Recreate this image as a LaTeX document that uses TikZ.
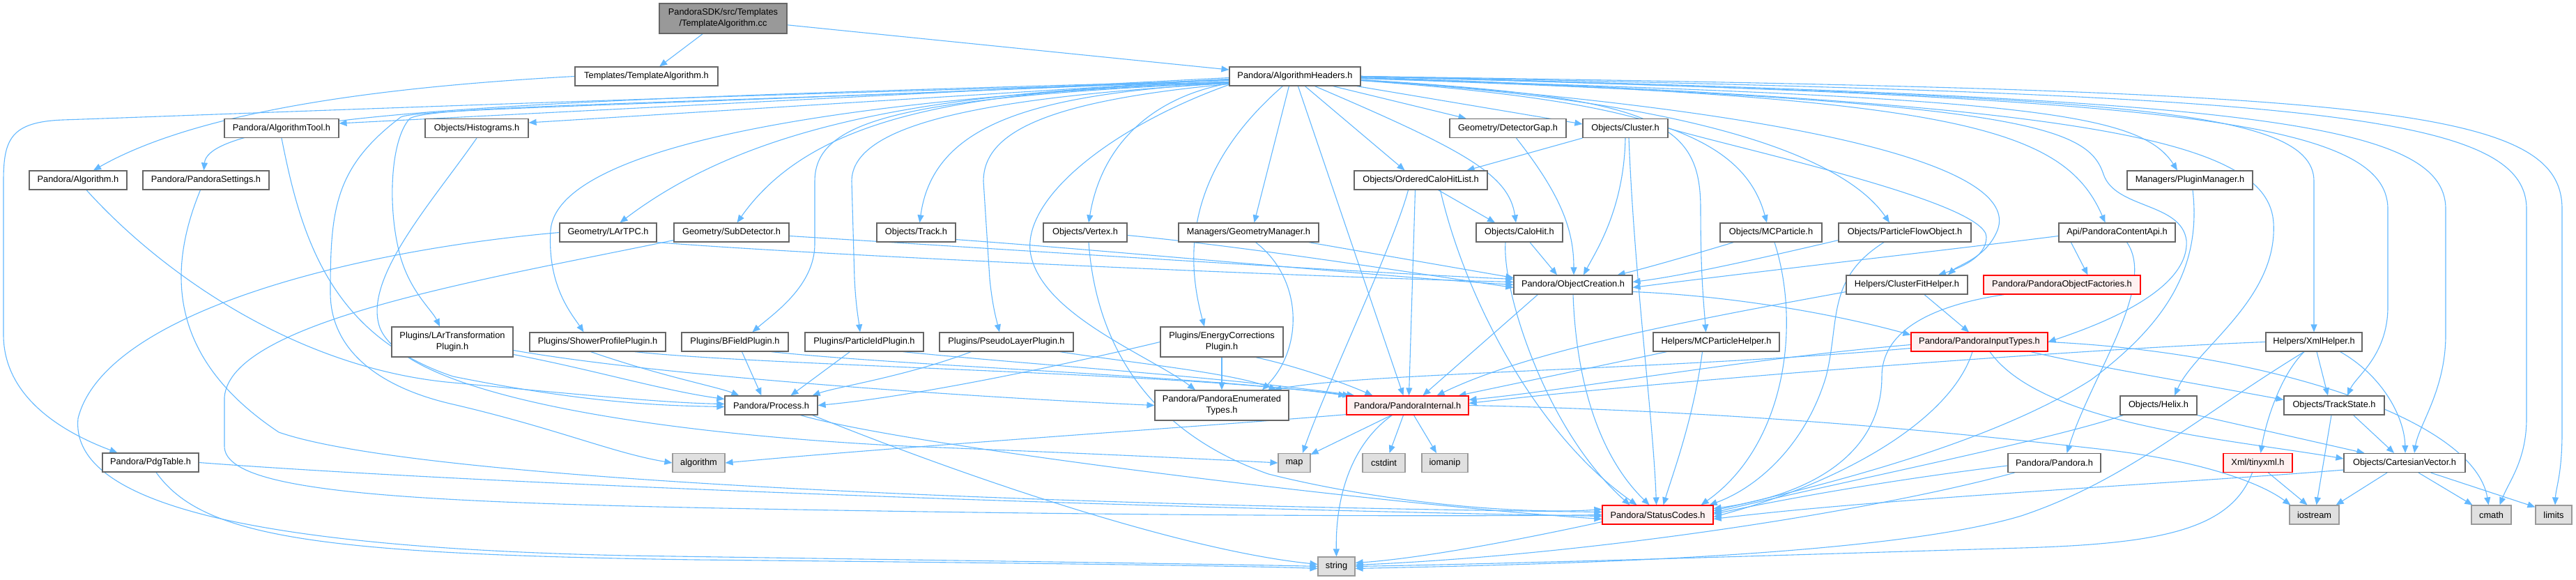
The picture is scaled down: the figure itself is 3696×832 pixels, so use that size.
\documentclass[tikz,border=0pt]{standalone}
\usepackage{fontspec}
\setmainfont{Liberation Sans}
\usetikzlibrary{arrows.meta,calc,backgrounds}
\definecolor{edgeblue}{HTML}{63B8FF}
\definecolor{boxgray}{HTML}{666666}
\definecolor{sysgray}{HTML}{999999}
\definecolor{sysfill}{HTML}{E0E0E0}
\definecolor{redfill}{HTML}{FFF0F0}
\definecolor{rootfill}{HTML}{999999}
\begin{document}
\begin{tikzpicture}[x=1pt,y=-1pt,
  box/.style={draw=boxgray, fill=white, line width=1.2pt, minimum height=27pt, inner xsep=2pt, inner ysep=0pt, align=center, font=\fontsize{12.8pt}{16pt}\selectfont},
  redbox/.style={box, draw=red, fill=redfill},
  sysbox/.style={box, draw=sysgray, fill=sysfill},
  rootbox/.style={box, fill=rootfill},
  edge/.style={draw=edgeblue, line width=1.1pt, -{Triangle[length=11pt,width=9pt]}}
]
\useasboundingbox (0,0) rectangle (3696,832);
% ---------------- nodes ----------------
\node[rootbox, minimum width=183pt, minimum height=43pt] (cc) at (1037.5,26.5) {PandoraSDK/src/Templates\\/TemplateAlgorithm.cc};
\node[box, minimum width=205pt] (tah) at (927.5,109.5) {Templates/TemplateAlgorithm.h};
\node[box, minimum width=188pt] (ah) at (1858,109.5) {Pandora/AlgorithmHeaders.h};
\node[box, minimum width=164pt] (atool) at (404,184) {Pandora/AlgorithmTool.h};
\node[box, minimum width=148pt] (hist) at (684,184) {Objects/Histograms.h};
\node[box, minimum width=167pt] (dgap) at (2163.5,184) {Geometry/DetectorGap.h};
\node[box, minimum width=122pt] (clus) at (2332,184) {Objects/Cluster.h};
\node[box, minimum width=140pt] (alg) at (112,258.5) {Pandora/Algorithm.h};
\node[box, minimum width=181pt] (pset) at (295.5,258.5) {Pandora/PandoraSettings.h};
\node[box, minimum width=191pt] (ochl) at (2038.5,258.5) {Objects/OrderedCaloHitList.h};
\node[box, minimum width=180pt] (pman) at (3142,258.5) {Managers/PluginManager.h};
\node[box, minimum width=139pt] (lartpc) at (872.5,333.5) {Geometry/LArTPC.h};
\node[box, minimum width=165pt] (subdet) at (1049.5,333.5) {Geometry/SubDetector.h};
\node[box, minimum width=113pt] (track) at (1314.5,333.5) {Objects/Track.h};
\node[box, minimum width=120pt] (vertex) at (1557,333.5) {Objects/Vertex.h};
\node[box, minimum width=201pt] (gman) at (1791.5,333.5) {Managers/GeometryManager.h};
\node[box, minimum width=124pt] (calohit) at (2180,333.5) {Objects/CaloHit.h};
\node[box, minimum width=146pt] (mcp) at (2541,333.5) {Objects/MCParticle.h};
\node[box, minimum width=190pt] (pfo) at (2733,333.5) {Objects/ParticleFlowObject.h};
\node[box, minimum width=167pt] (api) at (3037.5,333.5) {Api/PandoraContentApi.h};
\node[box, minimum width=170pt] (ocre) at (2257,408.5) {Pandora/ObjectCreation.h};
\node[box, minimum width=174pt] (cfh) at (2736,408.5) {Helpers/ClusterFitHelper.h};
\node[redbox, minimum width=225pt] (pof) at (2958.5,408.5) {Pandora/PandoraObjectFactories.h};
\node[box, minimum width=174pt, minimum height=43pt] (lartr) at (649,490.5) {Plugins/LArTransformation\\Plugin.h};
\node[box, minimum width=195pt] (shower) at (857.5,490.5) {Plugins/ShowerProfilePlugin.h};
\node[box, minimum width=153pt] (bfield) at (1054.5,490.5) {Plugins/BFieldPlugin.h};
\node[box, minimum width=170pt] (pid) at (1240,490.5) {Plugins/ParticleIdPlugin.h};
\node[box, minimum width=192pt] (pseudo) at (1444,490.5) {Plugins/PseudoLayerPlugin.h};
\node[box, minimum width=176pt, minimum height=43pt] (ecorr) at (1753,490.5) {Plugins/EnergyCorrections\\Plugin.h};
\node[box, minimum width=181pt] (mcph) at (2462.5,490.5) {Helpers/MCParticleHelper.h};
\node[redbox, minimum width=196pt] (pit) at (2840,490.5) {Pandora/PandoraInputTypes.h};
\node[box, minimum width=138pt] (xmlh) at (3320,490.5) {Helpers/XmlHelper.h};
\node[box, minimum width=133pt] (proc) at (1106.5,581.5) {Pandora/Process.h};
\node[box, minimum width=192pt, minimum height=43pt] (enum) at (1753,581.5) {Pandora/PandoraEnumerated\\Types.h};
\node[redbox, minimum width=175pt] (pint) at (2019.5,581.5) {Pandora/PandoraInternal.h};
\node[box, minimum width=110pt] (helix) at (3097,581.5) {Objects/Helix.h};
\node[box, minimum width=144pt] (tstate) at (3349,581.5) {Objects/TrackState.h};
\node[box, minimum width=138pt] (pdg) at (216,663.5) {Pandora/PdgTable.h};
\node[sysbox, minimum width=75pt] (algo) at (1002.5,664) {algorithm};
\node[sysbox, minimum width=46pt] (map) at (1857,664) {map};
\node[sysbox, minimum width=61pt] (cstdint) at (1985.5,664) {cstdint};
\node[sysbox, minimum width=66pt] (iomanip) at (2073,664) {iomanip};
\node[box, minimum width=133pt] (pandora) at (2947.5,664) {Pandora/Pandora.h};
\node[redbox, minimum width=99pt] (tinyxml) at (3239.5,664) {Xml/tinyxml.h};
\node[box, minimum width=174pt] (cvec) at (3450,664) {Objects/CartesianVector.h};
\node[redbox, minimum width=159pt] (status) at (2378.5,738.5) {Pandora/StatusCodes.h};
\node[sysbox, minimum width=71pt] (iostream) at (3320.5,738.5) {iostream};
\node[sysbox, minimum width=57pt] (cmath) at (3574.5,738.5) {cmath};
\node[sysbox, minimum width=52pt] (limits) at (3664,738.5) {limits};
\node[sysbox, minimum width=53pt] (string) at (1917.5,812.5) {string};
% ---------------- edges ----------------
\begin{scope}[on background layer]
\draw[edge] (cc) -- (tah);
\draw[edge] (cc) -- (ah);
\draw[edge] (tah.west) .. controls (600,122) and (300,150) .. ($(alg.north)+(22,0)$);
% AlgorithmHeaders, left side
\draw[edge] ($(ah.west)+(0,2)$) -- ($(atool.east)+(0,-7)$);
\draw[edge] ($(ah.west)+(0,4)$) -- ($(hist.east)+(0,-8)$);
\draw[edge] ($(ah.west)+(0,6)$) .. controls (900,140) and (300,155) .. ($(pset.north)+(-3,0)$);
\draw[edge] ($(ah.west)+(0,8)$) .. controls (900,140) and (300,165) .. (90,172) .. controls (15,175) and (5,200) .. (5,260) -- (5,480) .. controls (5,570) and (90,620) .. ($(pdg.north west)+(22,0)$);
\draw[edge] ($(ah.west)+(0,8)$) .. controls (1350,130) and (1080,175) .. ($(lartpc.north)+(17,0)$);
\draw[edge] ($(ah.west)+(0,8)$) .. controls (1400,130) and (1170,160) .. ($(subdet.north)+(8,0)$);
\draw[edge] ($(ah.west)+(0,9)$) .. controls (1500,135) and (1340,170) .. ($(track.north)+(5,0)$);
\draw[edge] ($(ah.west)+(0,10)$) .. controls (1650,140) and (1580,210) .. ($(vertex.north)+(5,0)$);
\draw[edge] ($(ah.west)+(0,9)$) .. controls (1200,140) and (800,210) .. (790,330) .. controls (785,410) and (820,450) .. ($(shower.north)+(-20,0)$);
\draw[edge] ($(ah.west)+(0,9)$) .. controls (1300,140) and (1169,170) .. (1169,260) -- (1169,350) .. controls (1169,410) and (1110,450) .. ($(bfield.north)+(25,0)$);
\draw[edge] ($(ah.west)+(0,10)$) .. controls (1400,140) and (1222,180) .. (1222,260) -- (1226,400) .. controls (1228,440) and (1232,460) .. ($(pid.north)+(-6,0)$);
\draw[edge] ($(ah.west)+(0,11)$) .. controls (1500,145) and (1411,190) .. (1411,260) -- (1420,400) .. controls (1424,440) and (1430,460) .. ($(pseudo.north)+(-10,0)$);
\draw[edge] ($(ah.west)+(0,12)$) .. controls (1600,180) and (1470,280) .. (1478,360) .. controls (1490,450) and (1650,510) .. ($(enum.north)+(-38,0)$);
\draw[edge] ($(ah.west)+(0,5)$) .. controls (1000,150) and (620,150) .. (588,170) .. controls (560,200) and (555,300) .. (575,370) .. controls (590,420) and (620,445) .. ($(lartr.north)+(-18,0)$);
\draw[edge] ($(ah.west)+(0,4)$) .. controls (1000,150) and (600,155) .. (575,168) .. controls (480,240) and (474,300) .. (474,420) .. controls (474,500) and (540,555) .. (650,580) .. controls (800,615) and (880,650) .. (algo.west);
% AlgorithmHeaders, bottom
\draw[edge] ($(ah.south west)+(86,0)$) -- ($(gman.north)+(8,0)$);
\draw[edge] ($(ah.south west)+(77,0)$) .. controls (1730,220) and (1690,330) .. ($(ecorr.north)+(-25,0)$);
\draw[edge] ($(ah.south west)+(99,0)$) -- ($(pint.north)+(-6,0)$);
\draw[edge] ($(ah.south west)+(109,0)$) -- ($(ochl.north)+(-23,0)$);
\draw[edge] ($(ah.south west)+(123,0)$) .. controls (2100,215) and (2165,250) .. ($(calohit.north)+(-5,0)$);
\draw[edge] ($(ah.south west)+(149,0)$) -- ($(dgap.north)+(-60,0)$);
\draw[edge] ($(ah.south east)+(-6,0)$) -- ($(clus.west)+(0,-6)$);
% AlgorithmHeaders, right side
\draw[edge] ($(ah.east)+(0,6)$) .. controls (2350,145) and (2500,190) .. ($(mcp.north)+(-6,0)$);
\draw[edge] ($(ah.east)+(0,6)$) .. controls (2450,145) and (2650,230) .. ($(pfo.north)+(-22,0)$);
\draw[edge] ($(ah.east)+(0,5)$) .. controls (2600,160) and (2900,240) .. (2866,330) .. controls (2850,370) and (2810,380) .. ($(cfh.north)+(59,0)$);
\draw[edge] ($(ah.east)+(0,5)$) .. controls (2380,140) and (2440,175) .. (2440,300) .. controls (2440,400) and (2445,440) .. ($(mcph.north)+(-15,0)$);
\draw[edge] ($(ah.east)+(0,2)$) .. controls (2800,140) and (2960,180) .. ($(api.north)+(-17,0)$);
\draw[edge] ($(ah.east)+(0,3)$) .. controls (2900,140) and (3070,160) .. ($(pman.north)+(-18,0)$);
\draw[edge] ($(ah.east)+(0,3)$) .. controls (2900,145) and (2995,180) .. (3018,250) .. controls (3035,300) and (3130,290) .. (3137,345) .. controls (3142,420) and (3000,470) .. (pit.east);
\draw[edge] ($(ah.east)+(0,1)$) .. controls (3000,148) and (3255,200) .. (3262,320) .. controls (3268,430) and (3150,500) .. ($(helix.north)+(23,0)$);
\draw[edge] (ah.east) .. controls (3000,140) and (3320,150) .. (3320,260) -- (xmlh.north);
\draw[edge] (ah.east) .. controls (3100,140) and (3426,170) .. (3426,300) -- (3426,440) .. controls (3426,510) and (3380,540) .. ($(tstate.north)+(19,0)$);
\draw[edge] (ah.east) .. controls (3200,140) and (3509,170) .. (3509,300) -- (3509,480) .. controls (3509,560) and (3470,610) .. ($(cvec.north)+(14,0)$);
\draw[edge] (ah.east) .. controls (3300,135) and (3625,160) .. (3625,300) -- (3625,600) .. controls (3625,660) and (3600,690) .. ($(cmath.north)+(12,0)$);
\draw[edge] (ah.east) .. controls (3400,130) and (3676,150) .. (3676,300) -- (3676,620) .. controls (3676,680) and (3667,700) .. ($(limits.north)+(2,0)$);
% left part
\draw[edge] ($(alg.south)+(12,0)$) .. controls (230,390) and (420,525) .. (640,548) .. controls (850,568) and (960,578) .. ($(proc.west)+(0,-2)$);
\draw[edge] (atool.south) .. controls (430,330) and (470,480) .. (650,540) .. controls (850,580) and (960,582) .. ($(proc.west)+(0,2)$);
\draw[edge] ($(pset.south)+(-8,0)$) .. controls (235,400) and (250,520) .. (400,620) .. controls (600,690) and (1500,725) .. ($(status.west)+(0,-4)$);
\draw[edge] (hist.south) .. controls (620,290) and (520,400) .. (545,470) .. controls (580,560) and (900,620) .. (1300,640) .. controls (1600,652) and (1760,660) .. (map.west);
\draw[edge] (pdg.east) .. controls (700,695) and (1600,728) .. ($(status.west)+(0,2)$);
\draw[edge] ($(pdg.south)+(8,0)$) .. controls (290,770) and (450,795) .. (1000,803) .. controls (1500,808) and (1800,812) .. ($(string.west)+(0,3)$);
\draw[edge] (lartpc.west) .. controls (500,360) and (150,450) .. (112,600) .. controls (100,720) and (350,785) .. (900,797) .. controls (1500,806) and (1800,810) .. (string.west);
\draw[edge] (lartpc.south east) .. controls (1200,368) and (1900,398) .. ($(ocre.west)+(0,-4)$);
\draw[edge] ($(subdet.east)+(0,5)$) .. controls (1400,355) and (1900,388) .. ($(ocre.west)+(0,-8)$);
\draw[edge] ($(subdet.south west)+(0,-3)$) .. controls (700,400) and (330,460) .. (322,570) -- (322,640) .. controls (322,710) and (600,722) .. (1200,732) .. controls (1800,742) and (2200,740) .. (status.west);
\draw[edge] ($(track.south east)+(0,-4)$) .. controls (1600,360) and (2000,398) .. (ocre.west);
\draw[edge] ($(vertex.east)+(0,4)$) .. controls (1800,355) and (2050,395) .. ($(ocre.west)+(0,4)$);
\draw[edge] ($(vertex.south)+(5,0)$) .. controls (1570,460) and (1620,610) .. (1820,680) .. controls (2000,725) and (2200,738) .. ($(status.west)+(0,-8)$);
\draw[edge] ($(gman.south east)+(-15,0)$) -- ($(ocre.west)+(0,-10)$);
\draw[edge] ($(gman.south)+(10,0)$) .. controls (1870,400) and (1870,500) .. ($(enum.north)+(58,0)$);
% plugins
\draw[edge] ($(lartr.east)+(0,18)$) .. controls (850,530) and (950,560) .. ($(proc.west)+(0,-9)$);
\draw[edge] ($(lartr.east)+(0,12)$) .. controls (950,540) and (1400,570) .. (enum.west);
\draw[edge] ($(shower.south)+(-10,0)$) .. controls (950,540) and (1030,555) .. ($(proc.north west)+(21,0)$);
\draw[edge] ($(shower.south east)+(-45,0)$) .. controls (1100,525) and (1700,535) .. (pint.north west);
\draw[edge] ($(bfield.south)+(10,0)$) -- ($(proc.north)+(-14,0)$);
\draw[edge] ($(bfield.south east)+(-25,0)$) .. controls (1300,525) and (1700,538) .. ($(pint.north west)+(6,0)$);
\draw[edge] ($(pid.south west)+(65,0)$) -- ($(proc.north)+(28,0)$);
\draw[edge] ($(pid.south east)+(-30,0)$) .. controls (1500,525) and (1750,540) .. ($(pint.north west)+(12,0)$);
\draw[edge] ($(pseudo.south west)+(46,0)$) .. controls (1300,540) and (1200,555) .. ($(proc.north east)+(-8,0)$);
\draw[edge] ($(pseudo.south east)+(-20,0)$) .. controls (1620,520) and (1770,535) .. ($(enum.north east)+(-18,0)$);
\draw[edge] (ecorr.west) .. controls (1500,530) and (1300,570) .. (proc.east);
\draw[edge] (ecorr.south) -- (enum.north);
\draw[edge] ($(ecorr.south east)+(-40,0)$) .. controls (1860,525) and (1930,550) .. ($(pint.north west)+(38,0)$);
\draw[edge] ($(proc.south east)+(-25,0)$) .. controls (1300,640) and (2000,725) .. ($(status.west)+(0,6)$);
\draw[edge] ($(proc.south east)+(-8,0)$) .. controls (1400,690) and (1700,790) .. ($(string.west)+(0,-3)$);
% middle part
\draw[edge] ($(dgap.south)+(12,0)$) .. controls (2240,280) and (2258,330) .. ($(ocre.north)+(1,0)$);
\draw[edge] (clus.south west) -- ($(ochl.north)+(66,0)$);
\draw[edge] (clus.south) .. controls (2330,300) and (2290,360) .. ($(ocre.north)+(15,0)$);
\draw[edge] ($(clus.south)+(5,0)$) .. controls (2345,400) and (2372,600) .. ($(status.north)+(-2,0)$);
\draw[edge] (clus.east) .. controls (2500,215) and (2850,290) .. (2850,340) .. controls (2850,370) and (2810,385) .. ($(cfh.north)+(45,0)$);
\draw[edge] ($(ochl.south)+(25,0)$) -- ($(calohit.north)+(-35,0)$);
\draw[edge] ($(ochl.south)+(-8,0)$) -- ($(pint.north)+(2,0)$);
\draw[edge] ($(ochl.south)+(28,0)$) .. controls (2100,420) and (2200,620) .. ($(status.north)+(-30,0)$);
\draw[edge] ($(ochl.south)+(-18,0)$) .. controls (2000,350) and (1900,560) .. ($(map.north)+(12,0)$);
\draw[edge] ($(calohit.south)+(15,0)$) -- ($(ocre.north)+(-23,0)$);
\draw[edge] ($(calohit.south)+(-20,0)$) .. controls (2155,420) and (2220,620) .. ($(status.north)+(-40,0)$);
\draw[edge] ($(mcp.south west)+(20,0)$) .. controls (2420,368) and (2360,385) .. ($(ocre.north east)+(-22,0)$);
\draw[edge] ($(mcp.south)+(5,0)$) .. controls (2585,470) and (2560,640) .. ($(status.north east)+(-18,0)$);
\draw[edge] ($(pfo.south west)+(0,-3)$) .. controls (2550,365) and (2420,395) .. ($(ocre.east)+(0,-4)$);
\draw[edge] ($(pfo.south)+(-30,0)$) .. controls (2620,400) and (2640,460) .. (2620,540) .. controls (2590,640) and (2520,700) .. ($(status.north east)+(-6,0)$);
\draw[edge] ($(api.west)+(0,5)$) .. controls (2800,358) and (2500,392) .. ($(ocre.east)+(0,4)$);
\draw[edge] ($(api.south west)+(18,0)$) -- ($(pof.north)+(37,0)$);
\draw[edge] ($(api.south)+(14,0)$) .. controls (3095,410) and (3000,540) .. ($(pandora.north)+(18,0)$);
\draw[edge] ($(pman.south)+(4,0)$) .. controls (3160,390) and (3100,470) .. (3000,545) .. controls (2850,640) and (2600,700) .. ($(status.east)+(0,-6)$);
\draw[edge] ($(ocre.south west)+(35,0)$) -- ($(pint.north)+(22,0)$);
\draw[edge] (ocre.south) .. controls (2262,560) and (2300,660) .. ($(status.north)+(-12,0)$);
\draw[edge] ($(ocre.east)+(0,10)$) .. controls (2500,425) and (2650,455) .. ($(pit.north west)+(0,4)$);
\draw[edge] ($(cfh.south)+(25,0)$) -- ($(pit.north)+(-15,0)$);
\draw[edge] ($(cfh.south west)+(0,-4)$) .. controls (2450,455) and (2200,500) .. ($(pint.north)+(42,0)$);
\draw[edge] ($(pof.south west)+(30,0)$) .. controls (2760,440) and (2700,480) .. (2700,540) .. controls (2700,650) and (2600,710) .. ($(status.east)+(0,-9)$);
\draw[edge] ($(mcph.south west)+(20,0)$) -- ($(pint.north east)+(-15,0)$);
\draw[edge] ($(mcph.south)+(-20,0)$) .. controls (2430,600) and (2400,680) .. ($(status.north)+(8,0)$);
\draw[edge] ($(pit.west)+(0,4)$) .. controls (2500,515) and (2250,560) .. ($(pint.east)+(0,-8)$);
\draw[edge] ($(pit.west)+(0,9)$) .. controls (2400,530) and (1950,535) .. ($(enum.north east)+(-22,0)$);
\draw[edge] ($(pit.south)+(-10,0)$) .. controls (2800,600) and (2650,690) .. ($(status.east)+(0,3)$);
\draw[edge] ($(pit.south east)+(-25,0)$) .. controls (3000,525) and (3150,550) .. ($(tstate.west)+(0,-8)$);
\draw[edge] ($(pit.south)+(15,0)$) .. controls (2930,610) and (3200,630) .. ($(cvec.west)+(0,-6)$);
\draw[edge] (pit.east) .. controls (3250,505) and (3550,600) .. ($(cmath.north)+(-4,0)$);
% PandoraInternal
\draw[edge] ($(pint.south west)+(65,0)$) -- ($(map.north east)+(0,2)$);
\draw[edge] ($(pint.south)+(-6,0)$) -- ($(cstdint.north)+(8,0)$);
\draw[edge] ($(pint.south)+(9,0)$) -- ($(iomanip.north)+(-12,0)$);
\draw[edge] ($(pint.south west)+(66,0)$) .. controls (1935,640) and (1916,720) .. (string.north);
\draw[edge] ($(pint.south west)+(0,-1)$) .. controls (1750,610) and (1300,640) .. (algo.east);
\draw[edge] (pint.east) .. controls (2500,590) and (2800,620) .. (3020,645) .. controls (3150,660) and (3240,690) .. ($(iostream.north west)+(2,0)$);
% right part
\draw[edge] (xmlh.west) .. controls (3000,500) and (2400,545) .. ($(pint.east)+(0,-3)$);
\draw[edge] ($(xmlh.south)+(4,0)$) -- ($(tstate.north)+(-9,0)$);
\draw[edge] ($(xmlh.south east)+(-32,0)$) .. controls (3420,540) and (3450,600) .. ($(cvec.north)+(1,0)$);
\draw[edge] ($(xmlh.south)+(-14,0)$) .. controls (3270,540) and (3250,610) .. ($(tinyxml.north)+(4,0)$);
\draw[edge] ($(xmlh.south)+(-14,0)$) .. controls (3150,600) and (3050,690) .. (2900,740) .. controls (2700,800) and (2200,810) .. ($(string.east)+(0,3)$);
\draw[edge] ($(tinyxml.south)+(15,0)$) -- ($(iostream.north)+(-10,0)$);
\draw[edge] ($(tinyxml.south)+(-8,0)$) .. controls (3200,760) and (3100,780) .. (2900,786) .. controls (2600,795) and (2200,808) .. (string.east);
\draw[edge] (helix.south east) -- ($(cvec.north west)+(30,0)$);
\draw[edge] ($(helix.south west)+(5,0)$) .. controls (2950,630) and (2600,700) .. ($(status.east)+(0,-3)$);
\draw[edge] ($(tstate.south east)+(-45,0)$) -- ($(cvec.north)+(-15,0)$);
\draw[edge] ($(tstate.south)+(-4,0)$) -- ($(iostream.north)+(3,0)$);
\draw[edge] ($(cvec.south)+(-25,0)$) -- ($(iostream.north east)+(-5,0)$);
\draw[edge] ($(cvec.south)+(20,0)$) -- ($(cmath.north west)+(2,0)$);
\draw[edge] ($(cvec.south east)+(-50,0)$) -- ($(limits.north west)+(0,3)$);
\draw[edge] ($(cvec.south west)+(0,-4)$) .. controls (3100,695) and (2700,715) .. ($(status.east)+(0,6)$);
\draw[edge] ($(pandora.west)+(0,4)$) .. controls (2700,690) and (2550,718) .. ($(status.east)+(0,-1)$);
\draw[edge] ($(pandora.south west)+(10,0)$) .. controls (2700,730) and (2300,795) .. ($(string.east)+(0,-2)$);
\draw[edge] ($(status.south west)+(0,-4)$) .. controls (2200,770) and (2050,800) .. ($(string.east)+(0,-5)$);
\end{scope}
\end{tikzpicture}
\end{document}
